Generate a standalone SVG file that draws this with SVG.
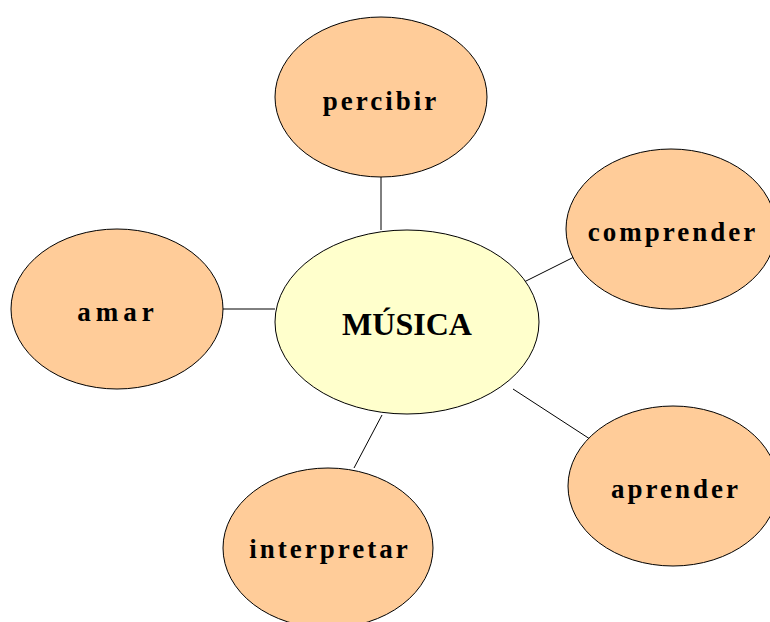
<svg xmlns="http://www.w3.org/2000/svg" width="770" height="622" viewBox="0 0 770 622">
<style>
.n{fill:#FFCC99;stroke:#000;stroke-width:1}
.c{fill:#FFFFCC;stroke:#000;stroke-width:1}
.t{font-family:"Liberation Serif","Times New Roman",serif;font-weight:bold;font-size:27px;letter-spacing:3px;text-anchor:middle;fill:#000}
.m{font-family:"Liberation Serif","Times New Roman",serif;font-weight:bold;font-size:32px;text-anchor:middle;fill:#000}
#connectors line{stroke:#000;stroke-width:1}
</style>
<rect width="770" height="622" fill="#fff"/>
<g id="connectors">
<line x1="381" y1="176" x2="381" y2="230"/>
<line x1="522" y1="283" x2="574" y2="257"/>
<line x1="222" y1="309" x2="275" y2="309"/>
<line x1="513" y1="389" x2="593" y2="441"/>
<line x1="382" y1="415" x2="354" y2="468"/>
</g>
<g id="musica">
<ellipse class="c" cx="407" cy="322" rx="132" ry="92"/>
<text class="m" x="407" y="335">MÚSICA</text>
</g>
<g id="percibir">
<ellipse class="n" cx="381" cy="97" rx="106" ry="80"/>
<text class="t" x="381" y="110">percibir</text>
</g>
<g id="comprender">
<ellipse class="n" cx="671" cy="229" rx="105" ry="80"/>
<text class="t" x="673" y="241">comprender</text>
</g>
<g id="amar">
<ellipse class="n" cx="117" cy="309" rx="106" ry="80"/>
<text class="t" x="118" y="321" style="letter-spacing:5px">amar</text>
</g>
<g id="aprender">
<ellipse class="n" cx="673" cy="486" rx="105" ry="80"/>
<text class="t" x="676" y="498">aprender</text>
</g>
<g id="interpretar">
<ellipse class="n" cx="328" cy="548" rx="105" ry="80"/>
<text class="t" x="330" y="558">interpretar</text>
</g>
</svg>
